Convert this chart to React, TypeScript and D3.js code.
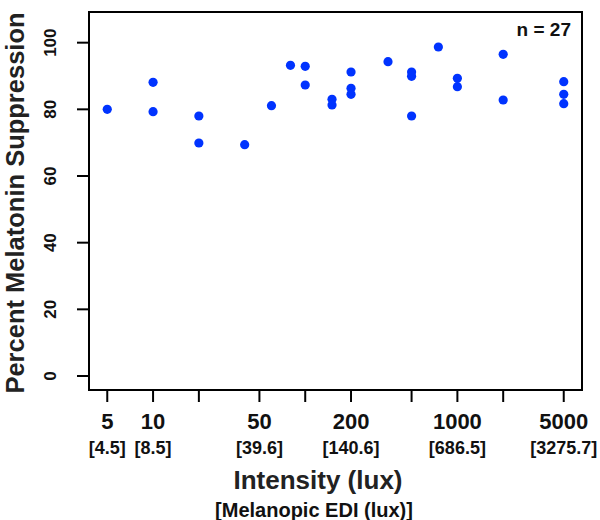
import React from "react";
import * as d3 from "d3";

const intensity = [5, 10, 10, 20, 20, 40, 60, 80, 100, 100, 150, 150, 200, 200, 200, 350, 500, 500, 500, 750, 1000, 1000, 2000, 2000, 5000, 5000, 5000];
const suppression = [80, 88.1, 79.3, 78.0, 69.9, 69.4, 81.1, 93.2, 92.9, 87.3, 83.0, 81.3, 91.2, 86.3, 84.5, 94.3, 91.2, 89.9, 78.0, 98.7, 89.3, 86.8, 96.5, 82.8, 88.3, 84.5, 81.7];

const xTicks = [5, 10, 20, 50, 100, 200, 500, 1000, 2000, 5000];
const xLabelValues = [5, 10, 50, 200, 1000, 5000];
const xLabels = ["5", "10", "50", "200", "1000", "5000"];
const ediLabels = ["[4.5]", "[8.5]", "[39.6]", "[140.6]", "[686.5]", "[3275.7]"];
const yTicks = [0, 20, 40, 60, 80, 100];

const xLim = [5, 5000];
const yLim = [0, 105];

export default function App() {
  const left = 89, right = 582, top = 12, bottom = 390;
  const lx0 = Math.log10(xLim[0]), lx1 = Math.log10(xLim[1]);
  const ex = (lx1 - lx0) * 0.04;
  const x = d3.scaleLog().domain([Math.pow(10, lx0 - ex), Math.pow(10, lx1 + ex)]).range([left, right]);
  const ey = (yLim[1] - yLim[0]) * 0.04;
  const y = d3.scaleLinear().domain([yLim[0] - ey, yLim[1] + ey]).range([bottom, top]);
  const font = "'Liberation Sans', Arial, sans-serif";

  return (
    <svg width={600} height={520} style={{ position: "absolute", left: 0, top: 0, background: "#fff" }} fontFamily={font} fontWeight="bold">
      <rect x={left} y={top} width={right - left} height={bottom - top} fill="none" stroke="#000" strokeWidth={2} />
      {yTicks.map((t) => (
        <g key={"y" + t}>
          <line x1={left - 12} x2={left} y1={y(t)} y2={y(t)} stroke="#000" strokeWidth={2} />
          <text transform={`translate(56,${y(t)}) rotate(-90)`} textAnchor="middle" fontSize={17} fill="#111">{t}</text>
        </g>
      ))}
      {xTicks.map((t) => (
        <line key={"x" + t} x1={x(t)} x2={x(t)} y1={bottom} y2={bottom + 12} stroke="#000" strokeWidth={2} />
      ))}
      {xLabelValues.map((v, i) => (
        <g key={"xl" + v}>
          <text x={x(v)} y={429} textAnchor="middle" fontSize={22} fill="#111">{xLabels[i]}</text>
          <text x={x(v)} y={454} textAnchor="middle" fontSize={18} fill="#111">{ediLabels[i]}</text>
        </g>
      ))}
      <text x={318} y={489} textAnchor="middle" fontSize={26} fill="#222">Intensity (lux)</text>
      <text x={314} y={517} textAnchor="middle" fontSize={20} fill="#111">[Melanopic EDI (lux)]</text>
      <text transform={`translate(24,${(top + bottom) / 2 + 2}) rotate(-90)`} textAnchor="middle" fontSize={25.5} fill="#222">Percent Melatonin Suppression</text>
      <text x={571} y={36} textAnchor="end" fontSize={19} fill="#111">n = 27</text>
      {intensity.map((v, i) => (
        <circle key={"p" + i} cx={x(v)} cy={y(suppression[i])} r={4.6} fill="#0033ff" />
      ))}
    </svg>
  );
}
